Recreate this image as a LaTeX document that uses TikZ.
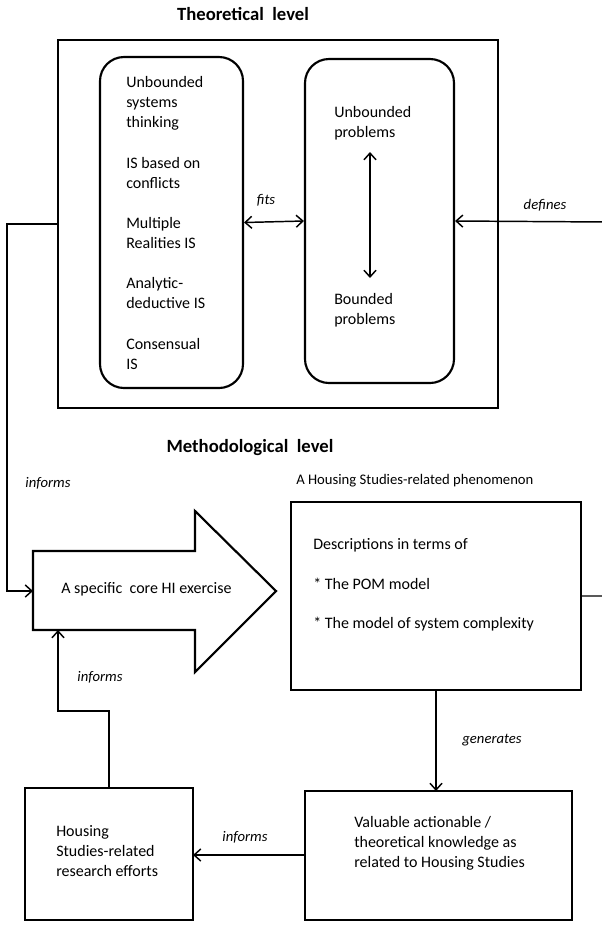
\documentclass[tikz,border=0pt]{standalone}
\usepackage{fontspec}
\setmainfont{Carlito}
\usetikzlibrary{arrows.meta,fit}
\begin{document}
\begin{tikzpicture}[x=0.75pt,y=-0.75pt,
  box/.style={draw,line width=1.6pt,inner sep=0pt},
  rbox/.style={box,rounded corners=18pt},
  conn/.style={line width=1.1pt,-{Straight Barb[length=5pt,width=9pt]}},
  dconn/.style={line width=1.1pt,{Straight Barb[length=5pt,width=9pt]}-{Straight Barb[length=5pt,width=9pt]}},
  txt/.style={inner sep=0pt,align=left,font=\fontsize{12}{15}\selectfont},
  lbl/.style={inner sep=0pt,font=\fontsize{11}{13}\selectfont\itshape},
  ttl/.style={inner sep=0pt,font=\fontsize{14}{17}\selectfont\bfseries}]
\useasboundingbox (0,0) rectangle (601,933);

% titles
\node[ttl] (t1) at (243,14) {Theoretical\ \ level};
\node[ttl] (t2) at (250,448) {Methodological\ \ level};

% theoretical level boxes
\node[box,fit={(58,40) (498,408)}] (outer) {};
\node[rbox,fit={(100,57) (243,388)}] (lbox) {};
\node[rbox,fit={(305,59) (454,383)}] (rbox) {};

\node[txt,anchor=west] (l1) at (126,103) {Unbounded\\systems\\thinking};
\node[txt,anchor=west] (l2) at (126,173) {IS based on\\conflicts};
\node[txt,anchor=west] (l3) at (126,233) {Multiple\\Realities IS};
\node[txt,anchor=west] (l4) at (126,293) {Analytic-\\deductive IS};
\node[txt,anchor=west] (l5) at (126,354) {Consensual\\IS};

\node[txt,anchor=west] (r1) at (334,123) {Unbounded\\problems};
\node[txt,anchor=west] (r2) at (334,310) {Bounded\\problems};
\coordinate (vt) at (370,152);
\coordinate (vb) at (370,278);
\draw[dconn] (vt) -- (vb);

\draw[dconn] (lbox.east) -- (rbox.west);
\node[lbl] (fits) at (266,200) {fits};

% right feedback (defines)
\coordinate (re1) at (607,596);
\coordinate (re2) at (607,222);
\node[lbl] (def) at (545,205) {defines};

% methodological level
\node[inner sep=0pt,anchor=west,font=\fontsize{11}{13}\selectfont] (phl) at (296,481) {A Housing Studies-related phenomenon};

% big arrow
\coordinate (a1) at (33,551);
\coordinate (a2) at (195,551);
\coordinate (a3) at (195,511);
\coordinate (a4) at (276,591);
\coordinate (a5) at (195,672);
\coordinate (a6) at (195,630);
\coordinate (a7) at (33,630);
\coordinate (ain) at (33,591);
\coordinate (abot) at (58,630);
\draw[line width=1.6pt,line join=miter] (a1) -- (a2) -- (a3) -- (a4) -- (a5) -- (a6) -- (a7) -- cycle;
\node[txt,anchor=west] (atext) at (61,589) {A specific\ \ core HI exercise};

% phenomenon box
\node[box,fit={(291,502) (581,690)}] (phen) {};
\node[txt,anchor=west] (p1) at (313,545) {Descriptions in terms of};
\node[txt,anchor=west] (p2) at (313,584) {* The POM model};
\node[txt,anchor=west] (p3) at (313,624) {* The model of system complexity};

% knowledge box
\node[box,fit={(305,791) (572,920)}] (know) {};
\node[txt,anchor=west] (k1) at (354,843) {Valuable actionable /\\theoretical knowledge as\\related to Housing Studies};

% housing box
\node[box,fit={(25,788) (193,920)}] (hous) {};
\node[txt,anchor=west] (h1) at (56,851) {Housing\\Studies-related\\research efforts};

% connectors
\coordinate (lc1) at (7,224);
\coordinate (lc2) at (7,591);
\draw[conn] (outer.west) -- (lc1) -- (lc2) -- (ain);
\node[lbl] (inf1) at (48,483) {informs};

\draw[conn] (phen.east) -- (re1) -- (re2) -- (rbox.east);

\coordinate (gtop) at (436,690);
\coordinate (gbot) at (436,791);
\draw[conn] (gtop) -- (gbot);
\node[lbl] (gen) at (492,740) {generates};

\coordinate (kl) at (305,855);
\coordinate (hr) at (193,855);
\draw[conn] (kl) -- (hr);
\node[lbl] (inf3) at (245,837) {informs};

\coordinate (ht) at (109,788);
\coordinate (hm) at (109,711);
\coordinate (hm2) at (58,711);
\draw[conn] (ht) -- (hm) -- (hm2) -- (abot);
\node[lbl] (inf2) at (100,677) {informs};
\end{tikzpicture}
\end{document}
